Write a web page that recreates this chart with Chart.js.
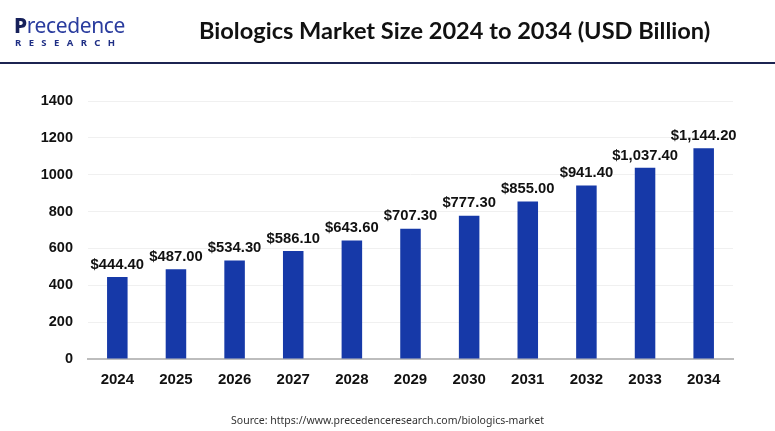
<!DOCTYPE html>
<html>
<head>
<meta charset="utf-8">
<script src="https://cdn.jsdelivr.net/npm/chart.js@4.4.1/dist/chart.umd.min.js"></script>
<style>
  body { margin: 0; background: #fff; }
  #wrap { position: relative; width: 775px; height: 431px; overflow: hidden; }
  #myChart { position: absolute; left: 0; top: 0; }
  .logo1 { position: absolute; left: 14px; top: 11px; font-family: "Noto Sans", sans-serif; font-size: 21px; color: #2a3c9e; letter-spacing: -0.4px; }
  .logo1 b { color: #16205a; font-weight: 800; }
  .logo2 { position: absolute; left: 15px; top: 36px; font-family: "Noto Sans", sans-serif; font-weight: 700; font-size: 9.5px; color: #1f2f85; letter-spacing: 7.4px; }
  .title { position: absolute; left: 199px; top: 16px; font-family: Lato, sans-serif; font-weight: 700; font-size: 23.6px; color: #111; white-space: nowrap; }
  .hr { position: absolute; left: 0; top: 62px; width: 775px; height: 2px; background: #1c2451; }
  .src { position: absolute; left: 0; width: 775px; top: 413px; text-align: center; font-family: "Noto Sans", sans-serif; font-size: 10.5px; color: #333; }
</style>
</head>
<body>
<div id="wrap">
  <canvas id="myChart" width="775" height="431"></canvas>
  <div class="logo1"><b>P</b>recedence</div>
  <div class="logo2">RESEARCH</div>
  <div class="title">Biologics Market Size 2024 to 2034 (USD Billion)</div>
  <div class="hr"></div>
  <div class="src">Source: https://www.precedenceresearch.com/biologics-market</div>
</div>
<script>
// данные
const years = ['2024', '2025', '2026', '2027', '2028', '2029', '2030', '2031', '2032', '2033', '2034'];
const marketSize = [444.4, 487.0, 534.3, 586.1, 643.6, 707.3, 777.3, 855.0, 941.4, 1037.4, 1144.2];
const valueLabels = ['$444.40', '$487.00', '$534.30', '$586.10', '$643.60', '$707.30', '$777.30', '$855.00', '$941.40', '$1,037.40', '$1,144.20'];
const yTicks = [0, 200, 400, 600, 800, 1000, 1200, 1400];

const fontFamily = '"Liberation Sans", Arial, sans-serif';

// подписи над столбцами
const barLabels = {
    id: 'barLabels',
    afterDatasetsDraw(chart) {
        const ctx = chart.ctx;
        const meta = chart.getDatasetMeta(0);
        ctx.save();
        ctx.font = 'bold 14.8px ' + fontFamily;
        ctx.fillStyle = '#111';
        ctx.textAlign = 'center';
        ctx.textBaseline = 'bottom';
        meta.data.forEach((bar, i) => {
            ctx.fillText(valueLabels[i], bar.x, bar.y - 5);
        });
        ctx.restore();
    }
};

const ctx = document.getElementById('myChart').getContext('2d');
new Chart(ctx, {
    type: 'bar',
    data: {
        labels: years,
        datasets: [{
            data: marketSize,
            backgroundColor: '#1639a8',
            barPercentage: 0.35,
            categoryPercentage: 1.0
        }]
    },
    options: {
        responsive: false,
        animation: false,
        layout: { padding: { top: 101, right: 42, left: 0, bottom: 0 } },
        plugins: { legend: { display: false }, tooltip: { enabled: false } },
        scales: {
            x: {
                grid: { display: false, drawTicks: false },
                border: { color: '#bdbdbd', width: 2 },
                ticks: { padding: 12, color: '#111', font: { family: fontFamily, size: 15, weight: 'bold' } },
                afterFit(scale) { scale.height = 72; }
            },
            y: {
                min: 0,
                max: 1400,
                afterBuildTicks(scale) { scale.ticks = yTicks.map(v => ({ value: v })); },
                grid: { color: '#f0f0f0', drawTicks: false },
                border: { display: false },
                ticks: {
                    padding: 15,
                    color: '#111',
                    font: { family: fontFamily, size: 14.5, weight: 'bold' },
                    callback: v => String(v)
                },
                afterFit(scale) { scale.width = 88; }
            }
        }
    },
    plugins: [barLabels]
});
</script>
</body>
</html>
